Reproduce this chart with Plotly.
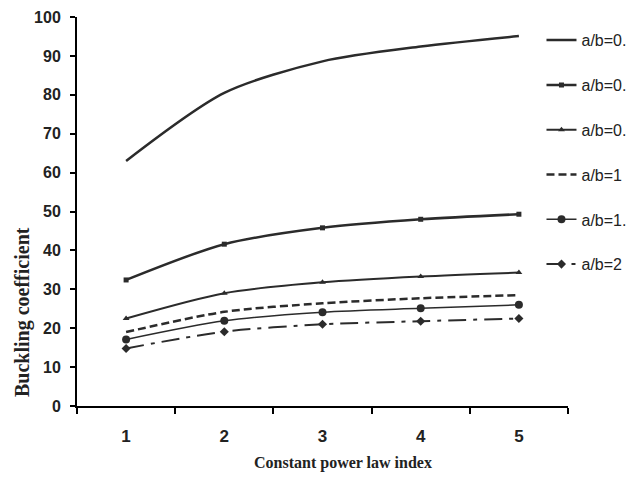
import plotly.graph_objects as go

categories = ["1", "2", "3", "4", "5"]
series_names = ["a/b=0.", "a/b=0.", "a/b=0.", "a/b=1", "a/b=1.", "a/b=2"]
s1 = [63.0, 80.5, 88.6, 92.4, 95.1]
s2 = [32.4, 41.6, 45.8, 48.0, 49.3]
s3 = [22.5, 29.0, 31.8, 33.3, 34.3]
s4 = [19.0, 24.2, 26.4, 27.7, 28.5]
s5 = [17.1, 21.9, 24.1, 25.1, 26.0]
s6 = [14.8, 19.1, 21.0, 21.8, 22.5]
y_ticks = [0, 10, 20, 30, 40, 50, 60, 70, 80, 90, 100]

col = "#2b2b2b"
styles = [
    dict(line=dict(width=2.5, dash="solid"), mode="lines", marker=dict()),
    dict(line=dict(width=2.5, dash="solid"), mode="lines+markers", marker=dict(symbol="square", size=5)),
    dict(line=dict(width=2.0, dash="solid"), mode="lines+markers", marker=dict(symbol="triangle-up", size=6)),
    dict(line=dict(width=2.5, dash="8px,4px"), mode="lines", marker=dict()),
    dict(line=dict(width=1.5, dash="solid"), mode="lines+markers", marker=dict(symbol="circle", size=8)),
    dict(line=dict(width=2.0, dash="18px,7px,4px,7px"), mode="lines+markers", marker=dict(symbol="diamond", size=7)),
]

fig = go.Figure()
for i, (name, vals) in enumerate(zip(series_names, [s1, s2, s3, s4, s5, s6])):
    st = styles[i]
    fig.add_trace(go.Scatter(
        x=categories, y=vals, name=name, mode=st["mode"],
        legendgroup="g%d" % i,
        line=dict(color=col, width=st["line"]["width"], dash=st["line"]["dash"], shape="spline", smoothing=0.8),
        marker=dict(color=col, **st["marker"]),
    ))

# page body has an 8px margin: figure is shrunk by 8px so the plot lands at the reference position
fig.update_layout(
    width=632, height=471,
    margin=dict(l=69, r=72, t=9, b=73, autoexpand=False),
    paper_bgcolor="white", plot_bgcolor="white",
    showlegend=True,
    legend=dict(x=0.946, xanchor="left", y=0.984, yanchor="top",
                font=dict(family="Liberation Sans, Arial", size=16, color="#222"),
                tracegroupgap=21, itemwidth=30, bgcolor="rgba(0,0,0,0)",
                maxheight=420),
    annotations=[
        dict(text="<b>Constant power law index</b>", xref="paper", yref="paper",
             x=(343 - 77) / 491, y=-(463 - 406) / 389, showarrow=False,
             font=dict(family="Liberation Serif, Times New Roman", size=16, color="#222"),
             xanchor="center", yanchor="middle"),
        dict(text="<b>Buckling coefficient</b>", xref="paper", yref="paper",
             x=-(77 - 22) / 491, y=(406 - 312) / 389, showarrow=False, textangle=-90,
             font=dict(family="Liberation Serif, Times New Roman", size=20, color="#222"),
             xanchor="center", yanchor="middle"),
    ],
)

fig.update_xaxes(
    type="category", range=[-0.5, 4.5], showgrid=False, zeroline=False,
    showline=True, linecolor="black", linewidth=2,
    ticks="outside", tickson="boundaries", ticklen=6, tickwidth=2, tickcolor="black",
    tickfont=dict(family="Liberation Sans, Arial", size=17, color="#222", weight="bold"),
    ticklabelstandoff=14,
)
fig.update_yaxes(
    range=[0, 100], tickvals=y_ticks, showgrid=False, zeroline=False,
    showline=True, linecolor="black", linewidth=2,
    ticks="outside", ticklen=5, tickwidth=2, tickcolor="black",
    tickfont=dict(family="Liberation Sans, Arial", size=16, color="#222", weight="bold"),
    ticklabelstandoff=6,
)

fig.write_html("out.html")
